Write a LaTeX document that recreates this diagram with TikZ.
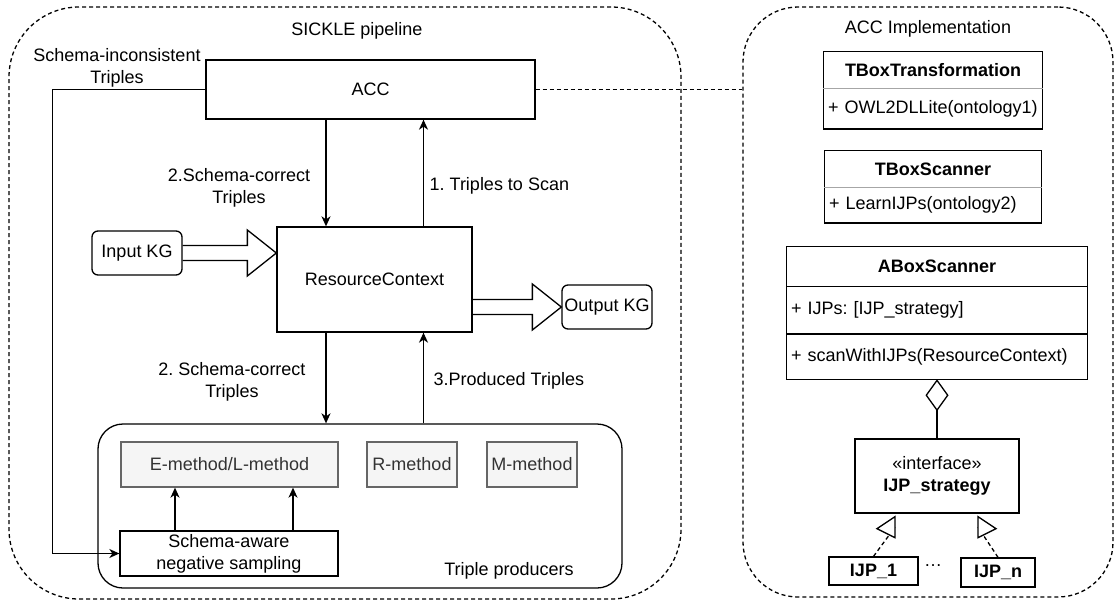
\documentclass[tikz,border=0pt]{standalone}
\usepackage{fontspec}
\setmainfont{Liberation Sans}
\usetikzlibrary{positioning}
\usetikzlibrary{arrows.meta,calc}

\definecolor{methodfill}{HTML}{F5F5F5}
\definecolor{methodline}{HTML}{666666}
\definecolor{methodtext}{HTML}{333333}

% fat open arrow: #1 start of the shaft, #2 tip
\newcommand{\hollowarrow}[2]{%
  \draw ($(#1)+(0,-7.5)$) -- ($(#2)+(-29,-7.5)$) -- ($(#2)+(-29,-23)$)
    -- (#2) -- ($(#2)+(-29,23)$) -- ($(#2)+(-29,7.5)$) -- ($(#1)+(0,7.5)$);}

\begin{document}
\frenchspacing
\begin{tikzpicture}[x=0.5pt,y=-0.5pt,line width=0.65pt,
  every node/.style={font=\fontsize{9}{11}\selectfont},
  dashframe/.style={draw,dash pattern=on 2pt off 1.5pt,rounded corners=#1},
  block/.style={draw,align=center,inner sep=0pt},
  kg/.style={block,rounded corners=3pt,minimum width=45pt,minimum height=22pt},
  method/.style={block,draw=methodline,fill=methodfill,text=methodtext,minimum height=22.5pt},
  lbl/.style={align=center,inner sep=0pt},
  arr/.style={-{Stealth[length=5pt,width=4.5pt,inset=1.5pt]}},
  cls/.style={font=\fontsize{9}{11}\selectfont\bfseries,inner sep=0pt,minimum width=#1},
  member/.style={text width=#1,align=left,inner xsep=2pt,inner ysep=0pt}]
  \useasboundingbox (0,0) rectangle (1119,605);

  % SICKLE pipeline
  \node [dashframe=35pt,minimum width=336pt,minimum height=296pt] (pipe) at (345,303) {};
  \node [lbl] (pipename) at (357,31) {SICKLE pipeline};
  \node [block,minimum width=164.5pt,minimum height=29.5pt] (acc) at (370.5,89.5) {ACC};
  \node [block,minimum width=97.5pt,minimum height=52.5pt] (rc) at (374.5,279.5) {ResourceContext};
  \node [kg] (inkg) at (137,253) {Input KG};
  \node [kg] (outkg) at (607,307) {Output KG};
  \node [block,rounded corners=12.5pt,minimum width=262pt,minimum height=82pt] (prod) at (360,506) {};
  \node [lbl] (prodname) at (509,571) {Triple producers};
  \node [method,minimum width=108.5pt] (em) at (229.5,464.5) {E-method/L-method};
  \node [method,minimum width=45pt] (rm) at (412,464.5) {R-method};
  \node [method,minimum width=45pt] (mm) at (532,464.5) {M-method};
  \node [block,minimum width=109pt,minimum height=22.5pt] (sa) at (229,553.5) {Schema-aware\\negative sampling};

  \node [lbl] (inconsist) at (117,68) {Schema-inconsistent\\Triples};
  \node [lbl] (correct1) at (239,187.5) {2.Schema-correct\\Triples};
  \node [lbl,anchor=west] (toscan) at (429,186) {1. Triples to Scan};
  \node [lbl] (correct2) at (232,382) {2. Schema-correct\\Triples};
  \node [lbl,anchor=west] (produced) at (433,381) {3.Produced Triples};

  \coordinate (down) at ($(acc.south)+(-44.5,0)$);
  \coordinate (up) at ($(rc.north)+(49,0)$);
  \draw [arr] (down) -- (down |- rc.north);
  \draw [arr] (up) -- (up |- acc.south);
  \draw [arr] (down |- rc.south) -- (down |- prod.north);
  \draw [arr] (up |- prod.north) -- (up |- rc.south);
  \draw [arr] (acc.west) -- ++(-153,0) |- (sa.west);
  \foreach \dx [count=\i] in {-54,64} {
    \coordinate (sa\i) at ($(sa.north)+(\dx,0)$);
    \draw [arr] (sa\i) -- (sa\i |- em.south);
  }
  \coordinate (intip) at (rc.west |- inkg.east);
  \coordinate (outstart) at (rc.east |- outkg.west);
  \hollowarrow{inkg.east}{intip}
  \hollowarrow{outstart}{outkg.west}

  % ACC Implementation
  \node [dashframe=27.5pt,minimum width=185pt,minimum height=295pt] (impl) at (928,302) {};
  \node [lbl] (implname) at (928,29) {ACC Implementation};
  \draw [dash pattern=on 2pt off 1.5pt] (acc.east) -- (acc.east -| impl.west);

  \node [cls=109pt,minimum height=18pt] (tt) at (933,70) {TBoxTransformation};
  \node [member=105pt,minimum height=19.5pt,below=0pt of tt] (ttop) {+ OWL2DLLite(ontology1)};
  \draw (tt.north west) rectangle (ttop.south east);
  \draw [gray!70] (tt.south west) -- (tt.south east);

  \node [cls=108pt,minimum height=18pt] (ts) at (933,169) {TBoxScanner};
  \node [member=104pt,minimum height=17pt,below=0pt of ts] (tsop) {+ LearnIJPs(ontology2)};
  \draw (ts.north west) rectangle (tsop.south east);
  \draw [gray!70] (ts.south west) -- (ts.south east);

  \node [cls=150pt,minimum height=19.5pt] (ab) at (937,266.5) {ABoxScanner};
  \node [member=146pt,minimum height=23pt,below=0pt of ab] (abattr) {+ IJPs: [IJP\_strategy]};
  \node [member=146pt,minimum height=22pt,below=0pt of abattr] (abop) {+ scanWithIJPs(ResourceContext)};
  \draw (ab.north west) rectangle (abop.south east);
  \draw (abattr.north west) -- (abattr.north east);
  \draw (abattr.south west) -- (abattr.south east);

  \node [block,minimum width=82pt,minimum height=37pt] (iface) at (937,476) {«interface»\\\textbf{IJP\_strategy}};
  \draw [{Diamond[open,length=16pt,width=11.5pt]}-] (abop.south) -- (iface.north);

  \node [block,font=\fontsize{9}{11}\selectfont\bfseries,minimum width=44.5pt,minimum height=14pt] (ijp1) at (873.5,571) {IJP\_1};
  \node [block,font=\fontsize{9}{11}\selectfont\bfseries,minimum width=37pt,minimum height=14.5pt] (ijpn) at (998,572.5) {IJP\_n};
  \node [lbl] (dots) at (933,566) {…};

  \coordinate (lt) at ($(iface.south)+(-42,13.5)$);
  \coordinate (rt) at ($(iface.south)+(41,13.5)$);
  \draw [dash pattern=on 2pt off 1.5pt] (ijp1.north) -- (lt);
  \draw [dash pattern=on 2pt off 1.5pt] (ijpn.north) -- (rt);
  \draw [fill=white] ($(lt)+(0,-10.5)$) -- ($(lt)+(-18,1.5)$) -- ($(lt)+(0,10.5)$) -- cycle;
  \draw [fill=white] ($(rt)+(0,-10.5)$) -- ($(rt)+(18,1.5)$) -- ($(rt)+(0,10.5)$) -- cycle;
\end{tikzpicture}
\end{document}
